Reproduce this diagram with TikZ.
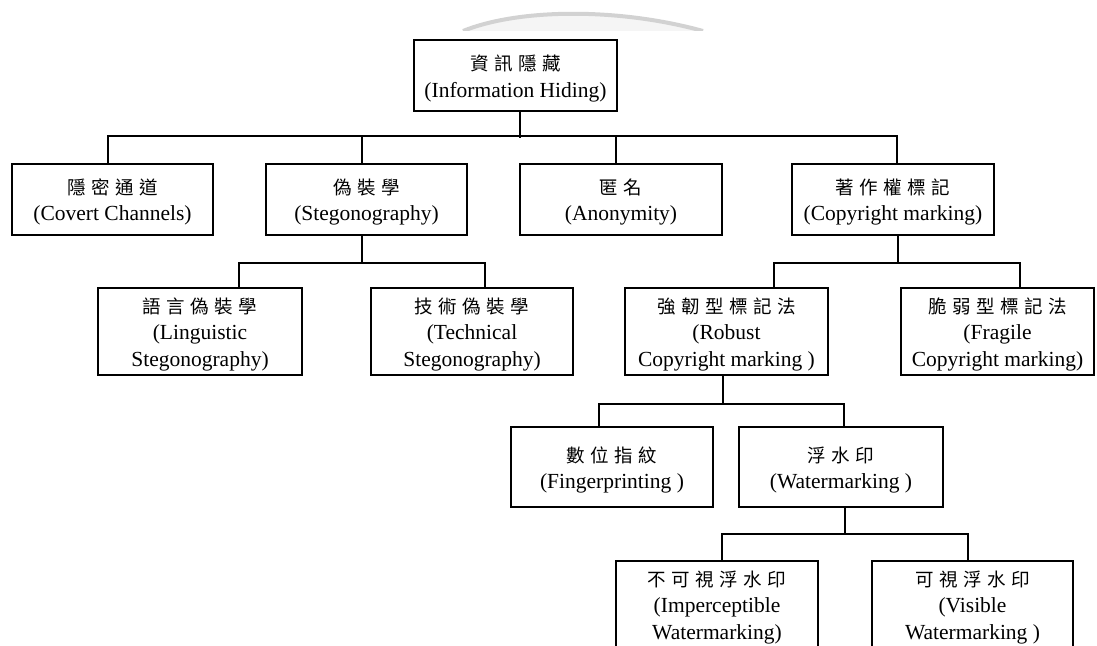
\documentclass[tikz,border=0pt]{standalone}
\usepackage{fontspec}
\setmainfont{Liberation Serif}
\newfontfamily\cjk[LetterSpace=30]{Noto Sans CJK TC}
% Chinese first line of each box; the strut sets its top a little lower
\newcommand\zh[1]{{\cjk\fontsize{18.5}{26.5}\selectfont\rule{0pt}{22pt}#1}}
\begin{document}
\begin{tikzpicture}[x=1pt,y=-1pt,
  box/.style={draw,line width=2pt,inner sep=0pt,align=center,
    minimum width=203pt,font=\fontsize{21.5}{26.5}\selectfont},
  two/.style={box,minimum height=71pt},
  three/.style={box,minimum height=87pt},
  mid/.style={box,minimum height=80pt},
  link/.style={line width=2pt}]
\useasboundingbox (0,0) rectangle (1097,645);
\clip (0,0) rectangle (1097,645);

% faint arc at the top edge
\fill[gray!8] (463,31) .. controls (520,8) and (620,8) .. (703,31) -- cycle;
\draw[gray!35,line width=4pt] (463,31) .. controls (520,8) and (620,8) .. (703,31);
\fill[white] (440,31) rectangle (720,40);

% boxes
\node[two] (root) at (515.5,75.5) {\zh{資訊隱藏}\\(Information Hiding)};

\node[two,minimum width=201pt] (covert) at (112.5,199) {\zh{隱密通道}\\(Covert Channels)};
\node[two,minimum width=201pt] (steg) at (366.5,199) {\zh{偽裝學}\\(Stegonography)};
\node[two,minimum width=202pt] (anon) at (621,199) {\zh{匿名}\\(Anonymity)};
\node[two,minimum width=202pt] (copy) at (893,199) {\zh{著作權標記}\\(Copyright marking)};

\node[three,minimum width=204pt] (ling) at (200,331) {\zh{語言偽裝學}\\(Linguistic\\Stegonography)};
\node[three,minimum width=202pt] (tech) at (472,331) {\zh{技術偽裝學}\\(Technical\\Stegonography)};
\node[three] (robust) at (726.5,331) {\zh{強韌型標記法}\\(Robust\\Copyright marking )};
\node[three,minimum width=193pt] (fragile) at (997.5,331) {\zh{脆弱型標記法}\\(Fragile\\Copyright marking)};

\node[mid,minimum width=202pt] (finger) at (612,467) {\zh{數位指紋}\\(Fingerprinting )};
\node[mid,minimum width=204pt] (water) at (841,467) {\zh{浮水印}\\(Watermarking )};

\node[three,minimum width=202pt] (imper) at (717,604) {\zh{不可視浮水印}\\(Imperceptible\\Watermarking)};
\node[three,minimum width=201pt] (visible) at (972.5,604) {\zh{可視浮水印}\\(Visible\\Watermarking )};

% connectors
\draw[link] ([xshift=4.5pt]root.south) -- ++(0,26);
\draw[link] ([xshift=-4.5pt]covert.north) -- ++(0,-27) -| ([xshift=4pt]copy.north);
\draw[link] ([xshift=-4.5pt]steg.north) -- ++(0,-27);
\draw[link] ([xshift=-5pt]anon.north) -- ++(0,-27);

\draw[link] ([xshift=-4.5pt]steg.south) -- ++(0,27) -| ([xshift=39pt]ling.north);
\draw[link] ([xshift=-4.5pt]steg.south) -- ++(0,27) -| ([xshift=13pt]tech.north);

\draw[link] ([xshift=4.5pt]copy.south) -- ++(0,27) -| ([xshift=47.5pt]robust.north);
\draw[link] ([xshift=4.5pt]copy.south) -- ++(0,27) -| ([xshift=22.5pt]fragile.north);

\draw[link] ([xshift=-3.5pt]robust.south) -- ++(0,28) -| ([xshift=-13pt]finger.north);
\draw[link] ([xshift=-3.5pt]robust.south) -- ++(0,28) -| ([xshift=3pt]water.north);

\draw[link] ([xshift=4pt]water.south) -- ++(0,26) -| ([xshift=5pt]imper.north);
\draw[link] ([xshift=4pt]water.south) -- ++(0,26) -| ([xshift=-4.5pt]visible.north);
\end{tikzpicture}
\end{document}
